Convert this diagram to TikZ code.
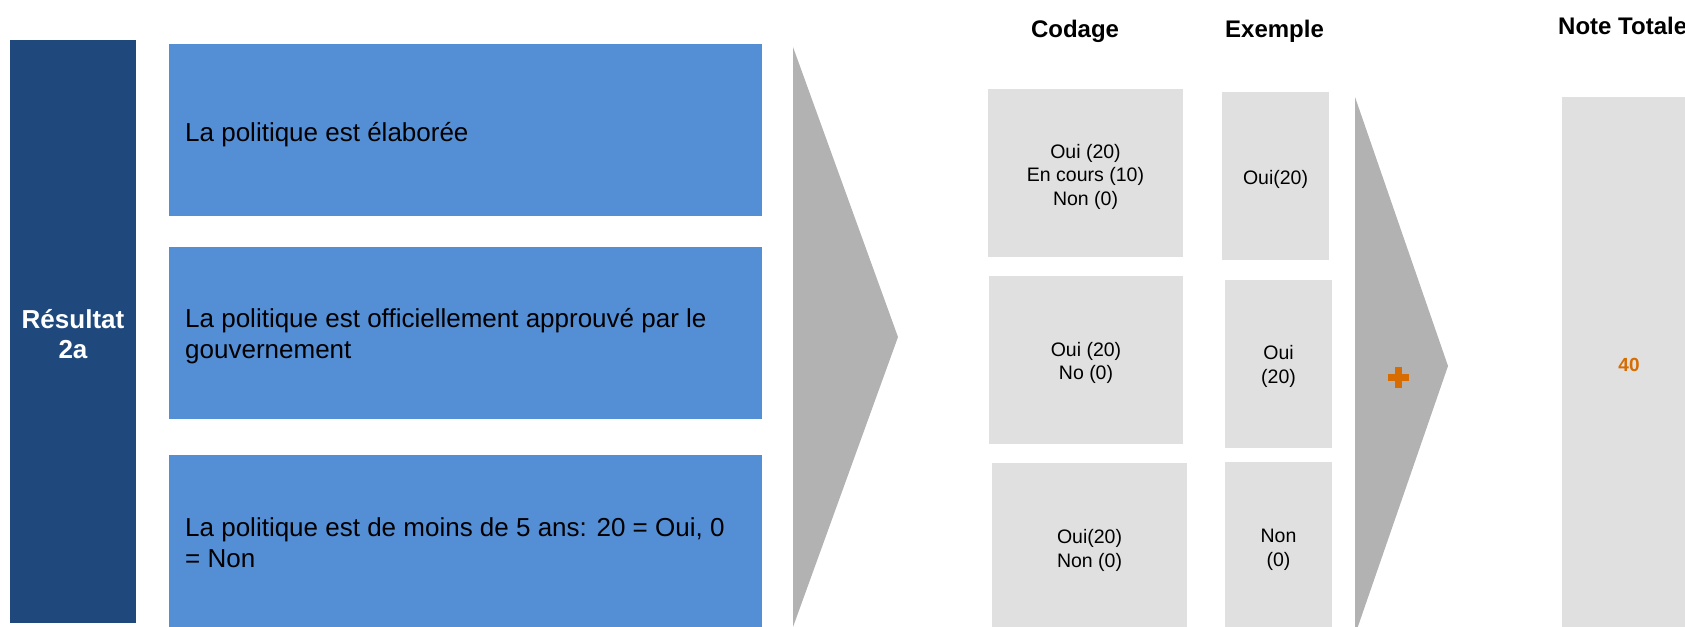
\documentclass[tikz,border=0pt]{standalone}
\usepackage{fontspec}
\setmainfont{Liberation Sans}
\definecolor{darkbar}{RGB}{31,73,125}
\definecolor{bluebox}{RGB}{84,142,213}
\definecolor{chevgray}{RGB}{178,178,178}
\definecolor{lightbox}{RGB}{224,224,224}
\definecolor{accentorange}{RGB}{215,108,0}
\begin{document}
\begin{tikzpicture}[x=1pt,y=-1pt,
  rect/.style={anchor=north west,inner sep=0pt,outer sep=0pt},
  bluerect/.style={rect,fill=bluebox,minimum width=593pt,minimum height=172pt},
  bluetxt/.style={anchor=west,inner sep=0pt,align=left,
    font=\fontsize{26}{31}\selectfont},
  graybox/.style={rect,fill=lightbox},
  graytxt/.style={inner sep=0pt,align=center,font=\fontsize{19.5}{23.5}\selectfont},
  header/.style={font=\bfseries\fontsize{24}{28}\selectfont,inner sep=0pt},
  chev/.style={fill=chevgray}]
\useasboundingbox (0,0) rectangle (1685,626);
\clip (0,0) rectangle (1685,626);
% left bar
\node[rect,fill=darkbar,minimum width=126pt,minimum height=583pt] (bar) at (10,40) {};
\node[inner sep=0pt,align=center,text=white,font=\bfseries\fontsize{26}{30}\selectfont]
  (bart) at ([yshift=-2.5pt]bar.center) {Résultat\\2a};
% blue boxes
\node[bluerect] (b1) at (169,44) {};
\node[bluerect] (b2) at (169,247) {};
\node[bluerect,minimum height=176pt] (b3) at (169,455) {};
\node[bluetxt] (b1t) at ([xshift=16pt,yshift=-5pt]b1.west) {La politique est élaborée};
\node[bluetxt] (b2t) at ([xshift=16pt,yshift=-3.5pt]b2.west) {La politique est officiellement approuvé par le\\gouvernement};
\node[bluetxt] (b3t) at ([xshift=16pt,yshift=0.5pt]b3.west) {La politique est de moins de 5 ans: 20 = Oui, 0\\= Non};
% chevrons
\fill[chev] (793,47) -- (898,337) -- (793,627) -- cycle;
\fill[chev] (1355,97) -- (1448,366) -- (1355,635) -- cycle;
% headers
\node[header] (hcod) at (1075,31) {Codage};
\node[header] (hex) at (1274.5,31) {Exemple};
\node[header,anchor=west] (htot) at (1558,26) {Note Totale};
% codage boxes
\node[graybox,minimum width=195pt,minimum height=168pt] (c1) at (988,89) {};
\node[graybox,minimum width=194pt,minimum height=168pt] (c2) at (989,275.5) {};
\node[graybox,minimum width=195pt,minimum height=169pt] (c3) at (992,463) {};
\node[graytxt] (c1t) at ([yshift=-3.5pt]c1.center) {Oui (20)\\En cours (10)\\Non (0)};
\node[graytxt] (c2t) at ([yshift=-3.5pt]c2.center) {Oui (20)\\No (0)};
\node[graytxt] (c3t) at ([yshift=-3pt]c3.center) {Oui(20)\\Non (0)};
% example boxes
\node[graybox,minimum width=107pt,minimum height=168pt] (e1) at (1222,92) {};
\node[graybox,minimum width=107pt,minimum height=168pt] (e2) at (1225,280) {};
\node[graybox,minimum width=107pt,minimum height=171pt] (e3) at (1225,462) {};
\node[graytxt] (e1t) at ([yshift=-3pt]e1.center) {Oui(20)};
\node[graytxt] (e2t) at ([yshift=-2.5pt]e2.center) {Oui\\(20)};
\node[graytxt] (e3t) at ([yshift=-2.5pt]e3.center) {Non\\(0)};
% total
\node[graybox,minimum width=134pt,minimum height=534pt] (tot) at (1562,97) {};
\node[inner sep=0pt,text=accentorange,font=\bfseries\fontsize{19}{23}\selectfont]
  (tott) at ([yshift=-1pt]tot.center) {40};
% plus sign
\fill[accentorange] (1387.5,374) rectangle (1408.5,381);
\fill[accentorange] (1394.5,367) rectangle (1401.5,388);
\end{tikzpicture}
\end{document}
